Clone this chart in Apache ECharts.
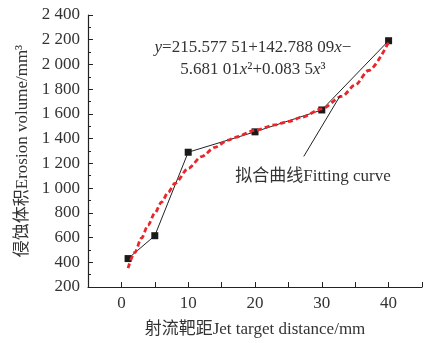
<!DOCTYPE html>
<html><head><meta charset="utf-8">
<script src="https://cdn.jsdelivr.net/npm/echarts@6/dist/echarts.min.js"></script>
<style>html,body{margin:0;padding:0;background:#fff}#c{width:425px;height:343px}</style>
</head><body><div id="c"></div>
<script>
const distance = [1, 5, 10, 20, 30, 40];
const erosion = [430, 615, 1290, 1455, 1632, 2192];
const fitX = [1, 2, 3, 4, 5, 6, 7, 8, 10, 12, 14, 16, 17, 20, 23, 25, 27, 30, 33, 35, 37, 40];
const fitY = [353, 479, 595, 701, 798, 886, 965, 1037, 1159, 1255, 1330, 1388, 1411, 1467, 1511, 1539, 1573, 1641, 1742, 1834, 1951, 2181];
const yTicks = [200, 400, 600, 800, 1000, 1200, 1400, 1600, 1800, 2000, 2200, 2400];
const xTicks = [0, 10, 20, 30, 40];

const FF = '"Liberation Serif","Noto Sans CJK SC",serif';
const C = '#333';
const chart = echarts.init(document.getElementById('c'));
const fmt = v => { const s = String(v); return s.length > 3 ? s.slice(0, s.length - 3) + ' ' + s.slice(-3) : s; };
chart.setOption({
  animation: false,
  grid: {left: 88, right: -3, top: 15, bottom: 54},
  xAxis: {
    type: 'value', min: -5, max: 45, interval: 5,
    axisLine: {onZero: false, lineStyle: {color: '#222', width: 1.2}},
    axisTick: {inside: true, length: 5, lineStyle: {color: '#222'}},
    splitLine: {show: false},
    axisLabel: {fontFamily: FF, fontSize: 17, color: C, margin: 8,
      formatter: v => xTicks.includes(v) ? String(v) : ''},
    name: '射流靶距Jet target distance/mm', nameLocation: 'middle', nameGap: 34,
    nameTextStyle: {fontFamily: FF, fontSize: 17, color: C}
  },
  yAxis: {
    type: 'value', min: 200, max: 2400, interval: 200,
    axisLine: {show: true, onZero: false, lineStyle: {color: '#222', width: 1.2}},
    axisTick: {inside: true, length: 5, lineStyle: {color: '#222'}},
    minorTick: {show: true, splitNumber: 2, length: 3, lineStyle: {color: '#222'}},
    splitLine: {show: false},
    axisLabel: {fontFamily: FF, fontSize: 17, color: C, margin: 8,
      formatter: v => yTicks.includes(v) ? fmt(v) : ''},
    name: '侵蚀体积Erosion volume/mm³', nameLocation: 'middle', nameGap: 57,
    nameTextStyle: {fontFamily: FF, fontSize: 17, color: C}
  },
  series: [
    {type: 'line', data: distance.map((d, i) => [d, erosion[i]]),
     lineStyle: {color: '#222', width: 1}, symbol: 'rect', symbolSize: 7,
     itemStyle: {color: '#1a1a1a'}, z: 3},
    {type: 'line', data: fitX.map((d, i) => [d, fitY[i]]), smooth: 0.3, smoothMonotone: 'x',
     symbol: 'none', lineStyle: {color: '#e8262b', width: 2.8, type: [5, 3]}, z: 4,
     markLine: {silent: true, symbol: 'none', label: {show: false},
       lineStyle: {color: '#222', width: 1, type: 'solid'},
       data: [[{coord: [27.3, 1256]}, {coord: [32.8, 1752]}]]}}
  ],
  graphic: [
    {type: 'text', style: {
      x: 253, y: 48, align: 'center', verticalAlign: 'middle',
      text: '{i|y}=215.577 51+142.788 09{i|x}−', font: '17px ' + FF, fill: C,
      rich: {i: {fontStyle: 'italic', fontSize: 17, fontFamily: FF}}}},
    {type: 'text', style: {
      x: 253, y: 70, align: 'center', verticalAlign: 'middle',
      text: '5.681 01{i|x}²+0.083 5{i|x}³', font: '17px ' + FF, fill: C,
      rich: {i: {fontStyle: 'italic', fontSize: 17, fontFamily: FF}}}},
    {type: 'text', style: {
      x: 313, y: 177, align: 'center', verticalAlign: 'middle',
      text: '拟合曲线Fitting curve', font: '17px ' + FF, fill: C}}
  ]
});
</script></body></html>
